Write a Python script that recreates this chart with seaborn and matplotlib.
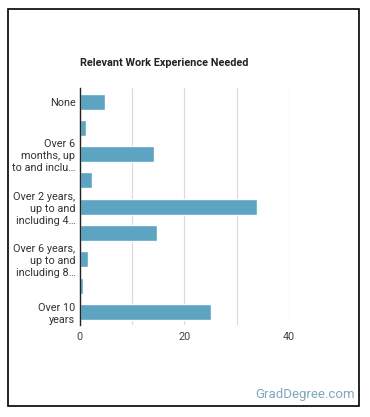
import matplotlib
matplotlib.use('Agg')
import matplotlib.pyplot as plt
import seaborn as sns
import pandas as pd
from matplotlib.patches import Rectangle

# data
categories = [
    "None",
    "Over 3 months, up to and including 6 months",
    "Over 6 months, up to and including 1 year",
    "Over 1 year, up to and including 2 years",
    "Over 2 years, up to and including 4 years",
    "Over 4 years, up to and including 6 years",
    "Over 6 years, up to and including 8 years",
    "Over 8 years, up to and including 10 years",
    "Over 10 years",
]
values = [4.9, 1.3, 14.3, 2.4, 33.9, 14.8, 1.7, 0.7, 25.1]
tick_labels = [
    "None",
    "",
    "Over 6\nmonths, up\nto and inclu\u2026",
    "",
    "Over 2 years,\nup to and\nincluding 4\u2026",
    "",
    "Over 6 years,\nup to and\nincluding 8\u2026",
    "",
    "Over 10\nyears",
]
x_ticks = [0, 20, 40]

df = pd.DataFrame({"category": categories, "value": values})

sns.set_style("white")
plt.rcParams['font.family'] = ['Roboto', 'DejaVu Sans']

fig = plt.figure(figsize=(3.7, 4.17), dpi=100)
ax = fig.add_axes([0.215, 0.2206, 0.566, 0.5672])

sns.barplot(data=df, x="value", y="category", color="#5ca4c1", saturation=1,
            width=0.61, ax=ax, orient="h")

ax.set_xlim(0, 40)
ax.set_xticks([0, 10, 20, 30, 40])
ax.set_xticklabels([str(t) if t in x_ticks else "" for t in [0, 10, 20, 30, 40]],
                   fontsize=7.8, color="#444444")
ax.set_yticks(range(len(categories)))
ax.set_yticklabels(tick_labels, fontsize=7.8, color="#333333", linespacing=1.25)
ax.tick_params(axis="y", length=0, pad=3)
ax.tick_params(axis="x", length=0, pad=5)
ax.set_xlabel("")
ax.set_ylabel("")
ax.xaxis.grid(True, color="#d9d9d9", linewidth=0.8)
ax.set_axisbelow(True)
for s in ["top", "right", "bottom"]:
    ax.spines[s].set_visible(False)
ax.spines["left"].set_color("#222222")
ax.spines["left"].set_linewidth(1.0)

fig.text(0.215, 0.849, "Relevant Work Experience Needed", fontsize=7.8,
         fontweight="bold", color="#222222", ha="left", va="center")
fig.text(0.96, 0.053, "GradDegree.com", fontsize=9.5, color="#7fa6bd",
         ha="right", va="center")

# outer frame
fig.patches.append(Rectangle((0.022, 0.026), 0.949, 0.953, transform=fig.transFigure,
                             fill=False, edgecolor="black", linewidth=1.2))

fig.savefig("out.png", dpi=100)
plt.close(fig)
